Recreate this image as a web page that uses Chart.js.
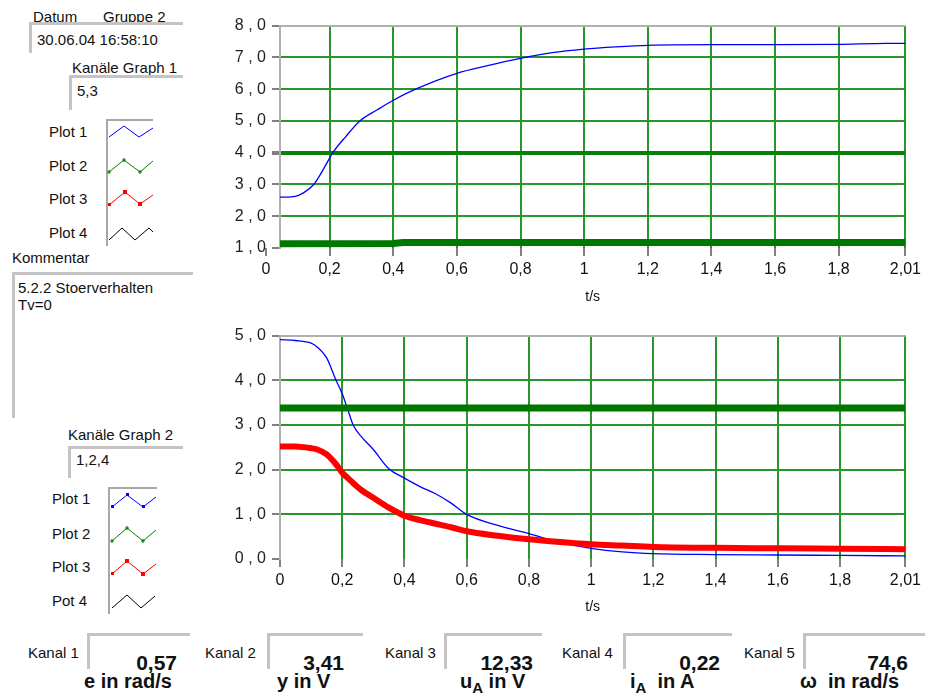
<!DOCTYPE html>
<html>
<head>
<meta charset="utf-8">
<script src="https://cdn.jsdelivr.net/npm/chart.js@4.4.1/dist/chart.umd.min.js"></script>
<style>
    body { margin: 0; background: #fff; font-family: "Liberation Sans", Arial, sans-serif; color: #111; }
    #page { position: relative; width: 925px; height: 700px; overflow: hidden; }
    .t { position: absolute; font-size: 15px; line-height: 17px; white-space: nowrap; }
    .box { position: absolute; border-top: 3px solid #c4c4c4; border-left: 3px solid #c4c4c4; box-sizing: border-box; }
    .val { position: absolute; font-size: 21px; font-weight: bold; line-height: 22px; text-align: right; }
    .unit { position: absolute; font-size: 20px; font-weight: bold; line-height: 22px; white-space: nowrap; }
    .unit sub { font-size: 15px; vertical-align: -5px; }
    canvas { position: absolute; }
</style>
</head>
<body>
<div id="page">
    <div class="t" style="left:33px;top:8px">Datum</div>
    <div class="t" style="left:103px;top:8px">Gruppe 2</div>
    <div class="box" style="left:29px;top:22px;width:154px;height:31px"></div>
    <div class="t" style="left:37px;top:31px">30.06.04 16:58:10</div>

    <div class="t" style="left:72px;top:59px">Kanäle Graph 1</div>
    <div class="box" style="left:69px;top:75px;width:114px;height:35px"></div>
    <div class="t" style="left:77px;top:82px">5,3</div>

    <div class="t" style="left:49px;top:123px">Plot 1</div>
    <div class="t" style="left:49px;top:157px">Plot 2</div>
    <div class="t" style="left:49px;top:190px">Plot 3</div>
    <div class="t" style="left:49px;top:224px">Plot 4</div>
    <svg style="position:absolute;left:0;top:0" width="925" height="700">
        <g fill="none">
            <path d="M107 246 V120 H153" stroke="#a8a8a8" stroke-width="2"/>
            <polyline points="109,137 124,126 139,137 153,128" stroke="#0000ff"/>
            <polyline points="109,172 124,160 140,172 153,161" stroke="#008000"/>
            <polyline points="109,205 125,192 140,204 153,195" stroke="#ff0000"/>
            <polyline points="109,240 122,228 135,240 149,228 153,232" stroke="#000"/>
            <path d="M109 614 V488 H157" stroke="#a8a8a8" stroke-width="2"/>
            <polyline points="112,507 127,495 143,507 156,497" stroke="#0000ff"/>
            <polyline points="112,541 127,528 143,541 156,530" stroke="#008000"/>
            <polyline points="112,574 127,561 143,574 156,564" stroke="#ff0000"/>
            <polyline points="112,608 127,595 141,608 155,596" stroke="#000"/>
        </g>
        <g fill="#008000" stroke="#008000" stroke-width="1.2">
            <path d="M107 172 h4 M109 170 v4 M122 160 h4 M124 158 v4 M138 172 h4 M140 170 v4"/>
            <path d="M110 541 h4 M112 539 v4 M125 528 h4 M127 526 v4 M141 541 h4 M143 539 v4"/>
        </g>
        <g fill="#ff0000">
            <rect x="108" y="203" width="3" height="3"/><rect x="123" y="190" width="4" height="4"/><rect x="138" y="202" width="4" height="4"/>
            <rect x="111" y="572" width="3" height="3"/><rect x="125" y="559" width="4" height="4"/><rect x="141" y="572" width="4" height="4"/>
        </g>
        <g fill="#0000ff">
            <rect x="111" y="505" width="3" height="3"/><rect x="126" y="493" width="3" height="3"/><rect x="142" y="505" width="3" height="3"/>
        </g>
    </svg>

    <div class="t" style="left:12px;top:249px">Kommentar</div>
    <div class="box" style="left:12px;top:272px;width:181px;height:146px"></div>
    <div class="t" style="left:18px;top:279px">5.2.2 Stoerverhalten</div>
    <div class="t" style="left:18px;top:296px">Tv=0</div>

    <div class="t" style="left:68px;top:426px">Kanäle Graph 2</div>
    <div class="box" style="left:68px;top:446px;width:115px;height:32px"></div>
    <div class="t" style="left:76px;top:451px">1,2,4</div>

    <div class="t" style="left:52px;top:490px">Plot 1</div>
    <div class="t" style="left:52px;top:525px">Plot 2</div>
    <div class="t" style="left:52px;top:558px">Plot 3</div>
    <div class="t" style="left:52px;top:592px">Pot 4</div>

    <canvas id="graph1" width="705" height="300" style="left:220px;top:10px"></canvas>
    <canvas id="graph2" width="705" height="300" style="left:220px;top:320px"></canvas>

    <div class="t" style="left:28px;top:644px">Kanal 1</div>
    <div class="box" style="left:87px;top:633px;width:103px;height:36px"></div>
    <div class="val" style="left:100px;top:652px;width:77px">0,57</div>
    <div class="unit" style="left:84px;top:670px">e in rad/s</div>

    <div class="t" style="left:205px;top:644px">Kanal 2</div>
    <div class="box" style="left:267px;top:633px;width:96px;height:36px"></div>
    <div class="val" style="left:280px;top:652px;width:64px">3,41</div>
    <div class="unit" style="left:277px;top:670px">y in V</div>

    <div class="t" style="left:385px;top:644px">Kanal 3</div>
    <div class="box" style="left:444px;top:633px;width:98px;height:36px"></div>
    <div class="val" style="left:450px;top:652px;width:83px">12,33</div>
    <div class="unit" style="left:460px;top:670px">u<sub>A</sub> in V</div>

    <div class="t" style="left:562px;top:644px">Kanal 4</div>
    <div class="box" style="left:623px;top:633px;width:109px;height:36px"></div>
    <div class="val" style="left:640px;top:652px;width:80px">0,22</div>
    <div class="unit" style="left:630px;top:670px">i<sub>A</sub> &nbsp;in A</div>

    <div class="t" style="left:744px;top:644px">Kanal 5</div>
    <div class="box" style="left:803px;top:633px;width:122px;height:36px"></div>
    <div class="val" style="left:820px;top:652px;width:88px">74,6</div>
    <div class="unit" style="left:800px;top:670px">ω &nbsp;in rad/s</div>
</div>

<script>
// Graph 1: Kanal 5 (omega, scaled) and Kanal 3 (u_A)
const topTime = [0.044, 0.06, 0.08, 0.1, 0.12, 0.15, 0.17, 0.2, 0.21, 0.25, 0.295, 0.35, 0.4, 0.47,
    0.6, 0.7, 0.8, 0.9, 1.0, 1.1, 1.2, 1.4, 1.6, 1.8, 1.95, 2.01];
const omegaValues = [2.6, 2.6, 2.61, 2.65, 2.75, 3.0, 3.3, 3.83, 4.0, 4.5, 5.0, 5.35, 5.65, 6.0,
    6.5, 6.75, 6.97, 7.15, 7.26, 7.33, 7.38, 7.4, 7.4, 7.41, 7.44, 7.44];
const uaTime = [0.044, 0.4, 0.43, 2.01];
const uaValues = [1.13, 1.14, 1.17, 1.17];

// Graph 2: Kanal 1 (e), Kanal 2 (y), Kanal 4 (i_A)
const bottomTime = [0, 0.05, 0.1, 0.12, 0.15, 0.18, 0.2, 0.22, 0.235, 0.26, 0.3, 0.35, 0.4, 0.45, 0.5,
    0.55, 0.6, 0.7, 0.8, 0.9, 1.0, 1.1, 1.2, 1.4, 1.6, 1.8, 2.01];
const eValues = [4.91, 4.89, 4.83, 4.74, 4.5, 4.0, 3.7, 3.3, 3.0, 2.75, 2.45, 2.02, 1.81, 1.62, 1.46,
    1.25, 1.0, 0.75, 0.57, 0.37, 0.24, 0.16, 0.12, 0.1, 0.09, 0.08, 0.07];
const iaValues = [2.52, 2.52, 2.48, 2.45, 2.34, 2.12, 1.93, 1.8, 1.7, 1.55, 1.37, 1.15, 0.97, 0.87, 0.79,
    0.71, 0.62, 0.52, 0.44, 0.38, 0.33, 0.3, 0.27, 0.25, 0.24, 0.23, 0.22];
const yTime = [0, 2.01];
const yValues = [3.38, 3.38];

const xTicks = [0, 0.2, 0.4, 0.6, 0.8, 1.0, 1.2, 1.4, 1.6, 1.8, 2.01];

function toPoints(xs, ys) {
    return xs.map((x, i) => ({ x: x, y: ys[i] }));
}

function makeChart(id, datasets, xMin, yMin, yMax, xHeight) {
    const ctx = document.getElementById(id).getContext('2d');
    return new Chart(ctx, {
        type: 'line',
        data: { datasets: datasets },
        options: {
            responsive: false,
            animation: false,
            layout: { padding: { top: 13, right: 18, left: 0, bottom: 0 } },
            elements: { point: { radius: 0 }, line: { cubicInterpolationMode: 'monotone' } },
            plugins: { legend: { display: false }, tooltip: { enabled: false } },
            scales: {
                x: {
                    type: 'linear',
                    min: xMin,
                    max: 2.01,
                    afterBuildTicks: scale => { scale.ticks = xTicks.map(v => ({ value: v })); },
                    afterFit: scale => { scale.height = xHeight; },
                    ticks: {
                        autoSkip: false,
                        maxRotation: 0,
                        color: '#111',
                        padding: 4,
                        font: { family: 'Liberation Sans', size: 16 },
                        callback: v => v === 2.01 ? '2,01' : String(+v.toFixed(1)).replace('.', ',')
                    },
                    grid: {
                        color: c => (c.tick && c.tick.value < xMin) ? 'rgba(0,0,0,0)' : '#2a952a',
                        lineWidth: 2,
                        tickColor: '#808080',
                        tickLength: 8
                    },
                    border: { display: false },
                    title: {
                        display: true,
                        text: 't/s',
                        color: '#111',
                        font: { family: 'Liberation Sans', size: 14 }
                    }
                },
                y: {
                    min: yMin,
                    max: yMax,
                    afterFit: scale => { scale.width = 60; },
                    ticks: {
                        stepSize: 1,
                        color: '#222',
                        padding: 6,
                        font: { family: 'Liberation Sans', size: 16 },
                        callback: v => v.toFixed(1).replace('.', ' , ')
                    },
                    grid: {
                        color: c => {
                            const v = c.tick ? c.tick.value : null;
                            if (v === yMax) return '#b0b0b0';
                            if (v === yMin) return 'rgba(0,0,0,0)';
                            if (v === 4 && id === 'graph1') return '#0a7f0a';
                            return '#2a952a';
                        },
                        lineWidth: c => (c.tick && c.tick.value === 4 && id === 'graph1') ? 4 : 2,
                        tickColor: '#808080',
                        tickLength: 8
                    },
                    border: { color: '#b0b0b0', width: 2 }
                }
            }
        }
    });
}

makeChart('graph1', [
    { data: toPoints(uaTime, uaValues), borderColor: '#007800', borderWidth: 7, cubicInterpolationMode: 'default', tension: 0 },
    { data: toPoints(topTime, omegaValues), borderColor: '#0000ff', borderWidth: 1.3 }
], 0.044, 1, 8, 62);

makeChart('graph2', [
    { data: toPoints(yTime, yValues), borderColor: '#007800', borderWidth: 7 },
    { data: toPoints(bottomTime, iaValues), borderColor: '#ff0000', borderWidth: 6 },
    { data: toPoints(bottomTime, eValues), borderColor: '#0000ff', borderWidth: 1.3 }
], 0, 0, 5, 61);
</script>
</body>
</html>
